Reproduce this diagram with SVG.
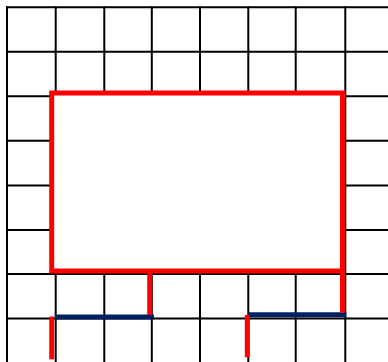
<svg xmlns="http://www.w3.org/2000/svg" width="388" height="362" viewBox="0 0 388 362">
<style>
.grid line{stroke:#000;stroke-width:2;}
.red{stroke:#FF0000;stroke-width:5;fill:none;}
.room{stroke:#FF0000;stroke-width:5;fill:#fff;}
.navy{stroke:#002060;stroke-width:5;fill:none;}
</style>
<rect x="0" y="0" width="388" height="362" fill="#fff"/>
<g id="grid" class="grid">
<line x1="6" y1="7.3" x2="388" y2="7.3"/>
<line x1="6" y1="51.8" x2="388" y2="51.8"/>
<line x1="6" y1="96.2" x2="388" y2="96.2"/>
<line x1="6" y1="140.7" x2="388" y2="140.7"/>
<line x1="6" y1="185.5" x2="388" y2="185.5"/>
<line x1="6" y1="230" x2="388" y2="230"/>
<line x1="6" y1="274" x2="388" y2="274"/>
<line x1="6" y1="318.5" x2="388" y2="318.5"/>
<line x1="7" y1="6.3" x2="7" y2="362"/>
<line x1="55.7" y1="6.3" x2="55.7" y2="362"/>
<line x1="104.3" y1="6.3" x2="104.3" y2="362"/>
<line x1="151.8" y1="6.3" x2="151.8" y2="362"/>
<line x1="200" y1="6.3" x2="200" y2="362"/>
<line x1="248.3" y1="6.3" x2="248.3" y2="362"/>
<line x1="295.7" y1="6.3" x2="295.7" y2="362"/>
<line x1="345.3" y1="6.3" x2="345.3" y2="362"/>
</g>
<g id="room">
<rect x="51.7" y="93" width="290.8" height="178" class="room"/>
</g>
<g id="connectors">
<line class="navy" x1="55" y1="317" x2="154" y2="317"/>
<line class="navy" x1="248.3" y1="314.8" x2="346.3" y2="314.8"/>
<line class="red" x1="149.7" y1="271" x2="149.7" y2="315"/>
<line class="red" x1="342.5" y1="271" x2="342.5" y2="312.5"/>
<line class="red" x1="51.7" y1="316.5" x2="51.7" y2="359.3"/>
<line class="red" x1="247.3" y1="315" x2="247.3" y2="357.3"/>
</g>
</svg>
